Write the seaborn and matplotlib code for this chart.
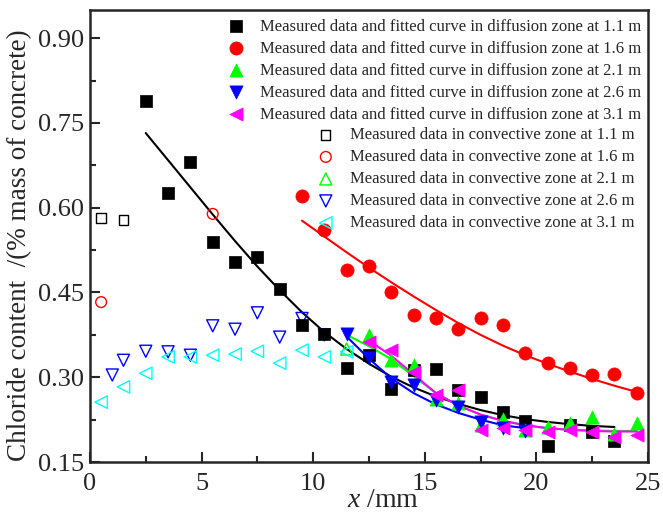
import matplotlib
matplotlib.use("Agg")
import matplotlib.pyplot as plt
import seaborn as sns
import pandas as pd

# depth positions (mm) and chloride content in the diffusion zone
x_diff_11 = [2.5, 3.5, 4.5, 5.5, 6.5, 7.5, 8.5, 9.5, 10.5, 11.5, 12.5, 13.5, 14.5, 15.5,
             16.5, 17.5, 18.5, 19.5, 20.5, 21.5, 22.5, 23.5]
c_diff_11 = [0.789, 0.626, 0.681, 0.539, 0.504, 0.513, 0.456, 0.392, 0.376, 0.316, 0.339, 0.279,
             0.313, 0.315, 0.277, 0.265, 0.238, 0.223, 0.178, 0.215, 0.203, 0.187]
x_diff_16 = [9.5, 10.5, 11.5, 12.5, 13.5, 14.5, 15.5, 16.5, 17.5, 18.5, 19.5, 20.5, 21.5,
             22.5, 23.5, 24.5]
c_diff_16 = [0.621, 0.560, 0.490, 0.497, 0.451, 0.410, 0.405, 0.385, 0.405, 0.392, 0.343,
             0.325, 0.316, 0.304, 0.305, 0.272]
x_diff_21 = [12.5, 13.5, 14.5, 15.5, 16.5, 17.5, 18.5, 19.5, 20.5, 21.5, 22.5, 23.5, 24.5]
c_diff_21 = [0.375, 0.330, 0.322, 0.262, 0.255, 0.215, 0.226, 0.207, 0.212, 0.219, 0.230,
             0.200, 0.219]
x_diff_26 = [11.5, 12.5, 13.5, 14.5, 15.5, 16.5, 17.5, 18.5, 19.5]
c_diff_26 = [0.376, 0.334, 0.292, 0.286, 0.260, 0.247, 0.220, 0.210, 0.205]
x_diff_31 = [12.5, 13.5, 14.5, 15.5, 16.5, 17.5, 18.5, 19.5, 20.5, 21.5, 22.5, 23.5, 24.5]
c_diff_31 = [0.362, 0.348, 0.310, 0.268, 0.278, 0.206, 0.210, 0.207, 0.204, 0.207, 0.204,
             0.195, 0.198]

# fitted curves in the diffusion zone
fx_11 = [2.5, 3.5, 4.5, 5.5, 6.5, 7.5, 8.5, 9.5, 10.5, 11.5, 12.5, 13.5, 14.5, 15.5, 16.5,
         17.5, 18.5, 19.5, 20.5, 21.5, 22.5, 23.5]
fc_11 = [0.732, 0.684, 0.636, 0.588, 0.541, 0.496, 0.454, 0.415, 0.380, 0.350, 0.324, 0.301,
         0.282, 0.266, 0.253, 0.242, 0.233, 0.226, 0.221, 0.217, 0.214, 0.212]
fx_16 = [9.5, 10.5, 11.5, 12.5, 13.5, 14.5, 15.5, 16.5, 17.5, 18.5, 19.5, 20.5, 21.5, 22.5,
         23.5, 24.5]
fc_16 = [0.577, 0.549, 0.521, 0.494, 0.468, 0.443, 0.419, 0.396, 0.375, 0.356, 0.339, 0.324,
         0.310, 0.297, 0.285, 0.274]
fx_21 = [11.5, 12.5, 13.5, 14.5, 15.5, 16.5, 17.5, 18.5, 19.5, 20.5, 21.5, 22.5, 23.5, 24.5]
fc_21 = [0.375, 0.355, 0.332, 0.302, 0.272, 0.250, 0.234, 0.223, 0.215, 0.210, 0.207, 0.206,
         0.205, 0.205]
fx_26 = [11.5, 12.5, 13.5, 14.5, 15.5, 16.5, 17.5, 18.5, 19.5]
fc_26 = [0.372, 0.333, 0.298, 0.272, 0.252, 0.237, 0.225, 0.215, 0.210]
fx_31 = [12.5, 13.5, 14.5, 15.5, 16.5, 17.5, 18.5, 19.5, 20.5, 21.5, 22.5, 23.5, 24.5]
fc_31 = [0.365, 0.338, 0.305, 0.272, 0.250, 0.234, 0.223, 0.215, 0.210, 0.207, 0.205, 0.204,
         0.204]

# convective zone measurements
x_conv_11 = [0.5, 1.5]
c_conv_11 = [0.582, 0.578]
x_conv_16 = [0.5, 5.5]
c_conv_16 = [0.433, 0.589]
x_conv_21 = [11.5]
c_conv_21 = [0.350]
x_conv_26 = [1.0, 1.5, 2.5, 3.5, 4.5, 5.5, 6.5, 7.5, 8.5, 9.5, 10.5]
c_conv_26 = [0.304, 0.330, 0.346, 0.345, 0.339, 0.391, 0.385, 0.414, 0.371, 0.404, 0.375]
x_conv_31 = [0.5, 1.5, 2.5, 3.5, 4.5, 5.5, 6.5, 7.5, 8.5, 9.5, 10.5, 11.5]
c_conv_31 = [0.256, 0.283, 0.307, 0.336, 0.336, 0.339, 0.341, 0.346, 0.325, 0.348, 0.336,
             0.345]

heights = ["1.1 m", "1.6 m", "2.1 m", "2.6 m", "3.1 m"]
colors = ["#000000", "#FF0000", "#00FF00", "#0000FF", "#FF00FF"]
conv_colors = ["#000000", "#FF0000", "#00FF00", "#0000FF", "#00FFFF"]
diff_markers = ["s", "o", "^", "v", "<"]
diff_sizes = [65, 90, 90, 90, 90]
conv_markers = ["s", "o", "^", "v", "<"]
conv_sizes = [45, 60, 75, 75, 80]

sns.set_style("ticks")
plt.rcParams["font.family"] = ["Liberation Serif", "DejaVu Serif"]
plt.rcParams["mathtext.fontset"] = "custom"
plt.rcParams["mathtext.it"] = "Liberation Serif:italic"
plt.rcParams["mathtext.rm"] = "Liberation Serif"

fig = plt.figure(figsize=(6.63, 5.18), dpi=100)
ax = fig.add_axes([0.1357, 0.108, 0.8416, 0.873])

diff_x = [x_diff_11, x_diff_16, x_diff_21, x_diff_26, x_diff_31]
diff_c = [c_diff_11, c_diff_16, c_diff_21, c_diff_26, c_diff_31]
fit_x = [fx_11, fx_16, fx_21, fx_26, fx_31]
fit_c = [fc_11, fc_16, fc_21, fc_26, fc_31]
conv_x = [x_conv_11, x_conv_16, x_conv_21, x_conv_26, x_conv_31]
conv_c = [c_conv_11, c_conv_16, c_conv_21, c_conv_26, c_conv_31]

for i in range(5):
    df = pd.DataFrame({"x": fit_x[i], "c": fit_c[i]})
    sns.lineplot(data=df, x="x", y="c", ax=ax, color=colors[i], lw=1.5,
                 estimator=None, sort=False, zorder=2)

conv_handles = []
for i in range(5):
    df = pd.DataFrame({"x": conv_x[i], "c": conv_c[i]})
    sns.scatterplot(data=df, x="x", y="c", ax=ax, marker=conv_markers[i],
                    s=conv_sizes[i], facecolor="none", edgecolor=conv_colors[i],
                    linewidth=1.0, zorder=3)
    conv_handles.append(ax.collections[-1])

diff_handles = []
for i in range(5):
    df = pd.DataFrame({"x": diff_x[i], "c": diff_c[i]})
    sns.scatterplot(data=df, x="x", y="c", ax=ax, marker=diff_markers[i],
                    s=diff_sizes[i], color=colors[i], edgecolor=colors[i],
                    linewidth=0.5, zorder=4)
    diff_handles.append(ax.collections[-1])

ax.set_xlim(0, 25)
ax.set_ylim(0.15, 0.95)
ax.set_xticks([0, 5, 10, 15, 20, 25])
ax.set_xticks([2.5, 7.5, 12.5, 17.5, 22.5], minor=True)
ax.set_yticks([0.15, 0.30, 0.45, 0.60, 0.75, 0.90])
ax.set_yticklabels(["0.15", "0.30", "0.45", "0.60", "0.75", "0.90"])
ax.set_yticks([0.225, 0.375, 0.525, 0.675, 0.825], minor=True)
ax.tick_params(which="both", direction="in", width=1.5, labelsize=19, top=False,
               right=False)
ax.tick_params(which="major", length=7)
ax.tick_params(axis="x", which="major", pad=8)
ax.tick_params(axis="y", which="major", pad=4)
ax.tick_params(which="minor", length=4)
for sp in ax.spines.values():
    sp.set_visible(True)
    sp.set_linewidth(1.8)

ax.set_xlabel("$x$ /mm", fontsize=20)
ax.xaxis.set_label_coords(0.525, -0.058)
ax.set_ylabel("Chloride content  /(% mass of concrete)", fontsize=19.5)
ax.yaxis.set_label_coords(-0.104, 0.48)

leg_kw = dict(loc="upper right", frameon=False, fontsize=12, handletextpad=0.85,
              labelspacing=0.36, borderaxespad=0.0, handlelength=1.2)
leg1 = ax.legend(diff_handles,
                 [f"Measured data and fitted curve in diffusion zone at {h}" for h in heights],
                 bbox_to_anchor=(1.0, 0.995), **leg_kw)
ax.add_artist(leg1)
ax.legend(conv_handles,
          [f"Measured data in convective zone at {h}" for h in heights],
          bbox_to_anchor=(0.988, 0.755), **leg_kw)

fig.savefig("out.png", dpi=100)
